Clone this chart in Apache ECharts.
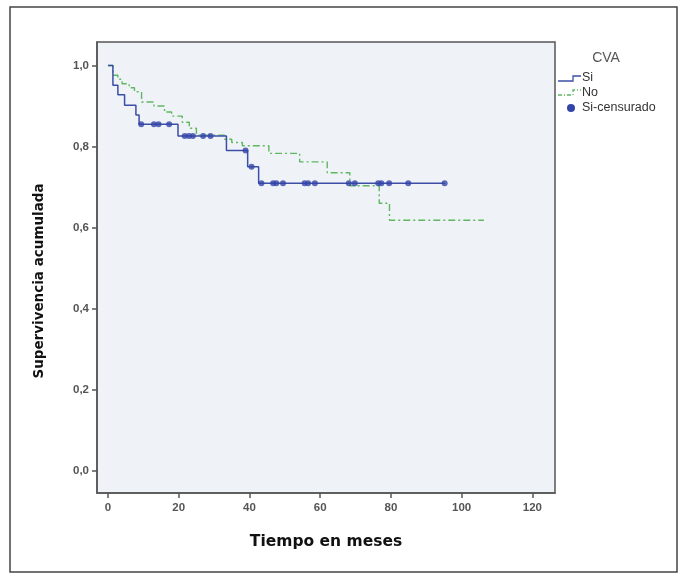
<!DOCTYPE html>
<html>
<head>
<meta charset="utf-8">
<script src="https://cdn.jsdelivr.net/npm/echarts@6/dist/echarts.min.js"></script>
<style>html,body{margin:0;padding:0;background:#fff;}#c{width:686px;height:579px;}</style>
</head>
<body>
<div id="c"></div>
<script>
// Tick labels
const xTicks = [0, 20, 40, 60, 80, 100, 120];
const yTicks = [0, 0.2, 0.4, 0.6, 0.8, 1.0];

// CVA = Si : step curve (time in months, cumulative survival)
const siTime = [0, 1.4, 2.8, 4.7, 7.9, 8.8, 19.8, 33.5, 39.5, 42.6, 95.2];
const siSurv = [1.0, 0.951, 0.928, 0.902, 0.878, 0.855, 0.826, 0.79, 0.75, 0.709, 0.709];

// CVA = Si : censored observations
const siCensTime = [9.4, 13.0, 14.3, 17.3, 21.7, 22.9, 24.0, 26.9, 29.0, 38.9, 40.6, 43.4, 46.7, 47.6, 49.5, 55.6, 56.6, 58.5, 68.1, 69.8, 76.4, 77.3, 79.5, 84.9, 95.2];
const siCensSurv = [0.855, 0.855, 0.855, 0.855, 0.826, 0.826, 0.826, 0.826, 0.826, 0.79, 0.75, 0.709, 0.709, 0.709, 0.709, 0.709, 0.709, 0.709, 0.709, 0.709, 0.709, 0.709, 0.709, 0.709, 0.709];

// CVA = No : step curve
const noTime = [0, 1.4, 2.8, 4.0, 6.0, 7.5, 9.5, 13.0, 16.0, 18.0, 21.0, 23.0, 25.0, 33.0, 35.0, 38.0, 45.5, 54.2, 62.0, 68.4, 76.7, 79.6, 106.3];
const noSurv = [1.0, 0.976, 0.966, 0.955, 0.945, 0.935, 0.91, 0.90, 0.885, 0.875, 0.86, 0.845, 0.828, 0.818, 0.81, 0.802, 0.783, 0.762, 0.735, 0.703, 0.66, 0.618, 0.618];

const zip = (a, b) => a.map((v, i) => [v, b[i]]);
const FONT = 'Liberation Sans, Arial, sans-serif';
const TFONT = 'DejaVu Sans, sans-serif';
const BLUE = '#3c4ea6';
const GREEN = '#5fb760';

const chart = echarts.init(document.getElementById('c'), null, {renderer: 'canvas'});
chart.setOption({
  animation: false,
  backgroundColor: '#ffffff',
  textStyle: {fontFamily: FONT},
  grid: {left: 97, top: 42, width: 458, height: 451, show: true,
         backgroundColor: '#eff3f7', borderColor: '#555', borderWidth: 1.5},
  xAxis: {
    type: 'value', min: -3.1, max: 126.4,
    name: 'Tiempo en meses', nameLocation: 'middle', nameGap: 41,
    nameTextStyle: {fontFamily: TFONT, fontSize: 15.5, fontWeight: 'bold', color: '#111'},
    axisLine: {onZero: false, lineStyle: {color: '#555', width: 1.5}},
    axisTick: {customValues: xTicks, length: 5, lineStyle: {color: '#555', width: 1.5}},
    axisLabel: {customValues: xTicks, color: '#555', fontSize: 11.5, fontWeight: 'bold', margin: 9, fontFamily: FONT},
    splitLine: {show: false}
  },
  yAxis: {
    type: 'value', min: -0.0556, max: 1.058,
    axisLine: {onZero: false, lineStyle: {color: '#555', width: 1.5}},
    axisTick: {customValues: yTicks, length: 5, lineStyle: {color: '#555', width: 1.5}},
    axisLabel: {customValues: yTicks, color: '#555', fontSize: 11.5, fontWeight: 'bold', margin: 8, fontFamily: FONT,
                formatter: v => v.toFixed(1).replace('.', ',')},
    splitLine: {show: false}
  },
  series: [
    {name: 'No', type: 'line', step: 'end', data: zip(noTime, noSurv), showSymbol: false,
     lineStyle: {color: GREEN, width: 1.4, type: [7, 3, 2, 3]}, z: 2},
    {name: 'Si', type: 'line', step: 'end', data: zip(siTime, siSurv), showSymbol: false,
     lineStyle: {color: BLUE, width: 1.5}, z: 3},
    {name: 'Si-censurado', type: 'scatter', data: zip(siCensTime, siCensSurv),
     symbol: 'circle', symbolSize: 6, itemStyle: {color: '#3345a8'}, z: 4}
  ],
  graphic: [
    {type: 'rect', shape: {x: 10, y: 7, width: 667, height: 565},
     style: {fill: null, stroke: '#444', lineWidth: 1.5}, silent: true},
    {type: 'text', x: 39, y: 281, rotation: Math.PI / 2,
     style: {text: 'Supervivencia acumulada', fontFamily: TFONT, fontSize: 13.5, fontWeight: 'bold', fill: '#111', align: 'center', verticalAlign: 'middle'}},
    {type: 'text', x: 606, y: 58, style: {text: 'CVA', fontFamily: FONT, fontSize: 14, fill: '#555', align: 'center', verticalAlign: 'middle'}},
    {type: 'polyline', shape: {points: [[558, 81], [573, 81], [573, 76], [581, 76]]}, style: {stroke: BLUE, lineWidth: 1.3, fill: null}},
    {type: 'text', x: 582, y: 78, style: {text: 'Si', fontFamily: FONT, fontSize: 12.5, fill: '#333', verticalAlign: 'middle'}},
    {type: 'polyline', shape: {points: [[558, 95], [573, 95], [573, 90], [581, 90]]}, style: {stroke: GREEN, lineWidth: 1.3, fill: null, lineDash: [4, 2, 1, 2]}},
    {type: 'text', x: 582, y: 93, style: {text: 'No', fontFamily: FONT, fontSize: 12.5, fill: '#333', verticalAlign: 'middle'}},
    {type: 'circle', shape: {cx: 571, cy: 108, r: 4}, style: {fill: '#3345a8'}},
    {type: 'text', x: 582, y: 108, style: {text: 'Si-censurado', fontFamily: FONT, fontSize: 12.5, fill: '#333', verticalAlign: 'middle'}}
  ]
});
</script>
</body>
</html>
